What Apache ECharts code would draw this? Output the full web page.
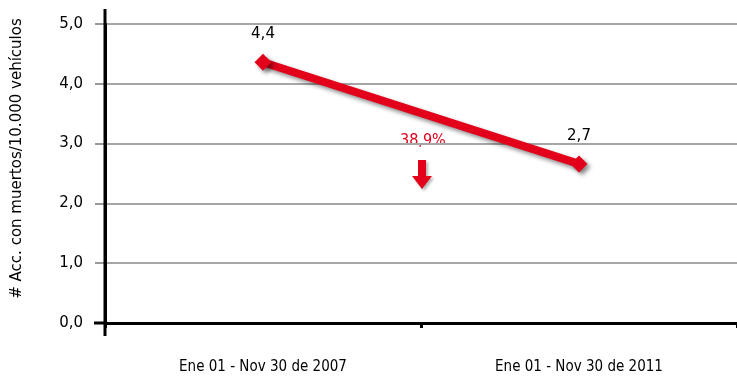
<!DOCTYPE html>
<html>
<head>
<meta charset="utf-8">
<script src="https://cdn.jsdelivr.net/npm/echarts@6/dist/echarts.min.js"></script>
<style>
  html, body { margin: 0; padding: 0; background: #fff; }
  #chart { width: 737px; height: 379px; }
</style>
</head>
<body>
<div id="chart"></div>
<script>
// periodos comparados
const periods = ['Ene 01 - Nov 30 de 2007', 'Ene 01 - Nov 30 de 2011'];
// accidentes con muertos por 10.000 vehículos
const rates = [4.36, 2.66];
const yTicks = [0, 1, 2, 3, 4, 5];
const changeLabel = '38,9%';

const red = '#e2001a';
const chart = echarts.init(document.getElementById('chart'));

const option = {
  animation: false,
  grid: { left: 105, right: 0, top: 24, bottom: 56 },
  xAxis: {
    type: 'category',
    data: periods,
    axisLine: { lineStyle: { color: '#000', width: 3 } },
    axisTick: { show: true, length: 5, lineStyle: { color: '#000', width: 3 } },
    axisLabel: {
      margin: 37,
      color: '#000',
      fontSize: 15,
      fontFamily: 'Liberation Sans Narrow, DejaVu Sans Condensed, sans-serif'
    }
  },
  yAxis: {
    type: 'value',
    min: yTicks[0],
    max: yTicks[yTicks.length - 1],
    interval: 1,
    name: '# Acc. con muertos/10.000 vehículos',
    nameLocation: 'middle',
    nameGap: 80,
    nameTextStyle: { color: '#000', fontSize: 15, fontFamily: 'DejaVu Sans', padding: [0, 0, 0, 30] },
    axisLine: { show: true, lineStyle: { color: '#000', width: 3 } },
    axisTick: { show: true, length: 10, lineStyle: { color: '#999', width: 2 } },
    axisLabel: {
      margin: 22,
      color: '#000',
      fontSize: 15,
      fontFamily: 'DejaVu Sans',
      formatter: v => v.toFixed(1).replace('.', ',')
    },
    splitLine: { lineStyle: { color: '#a6a6a6', width: 2 } }
  },
  series: [{
    type: 'line',
    data: rates,
    symbol: 'diamond',
    symbolSize: 17,
    lineStyle: {
      color: red, width: 8,
      shadowColor: 'rgba(0,0,0,0.45)', shadowBlur: 4, shadowOffsetX: 3, shadowOffsetY: 3
    },
    itemStyle: {
      color: red,
      shadowColor: 'rgba(0,0,0,0.45)', shadowBlur: 4, shadowOffsetX: 3, shadowOffsetY: 3
    },
    label: {
      show: true,
      position: 'top',
      distance: 12,
      color: '#000',
      fontSize: 15,
      fontFamily: 'DejaVu Sans',
      formatter: p => p.value.toFixed(1).replace('.', ',')
    }
  }],
  graphic: [
    // prolongaciones de los ejes
    { type: 'line', shape: { x1: 105, y1: 9, x2: 105, y2: 336 }, style: { stroke: '#000', lineWidth: 3 }, z: 10 },
    { type: 'line', shape: { x1: 94, y1: 323, x2: 106, y2: 323 }, style: { stroke: '#000', lineWidth: 3 }, z: 10 },
    // variación
    {
      type: 'text', left: 400, top: 133,
      style: { text: changeLabel, fill: red, fontSize: 16, fontFamily: 'DejaVu Sans Condensed, sans-serif' }
    },
    {
      type: 'polygon',
      shape: { points: [[418, 160], [426, 160], [426, 176], [432, 176], [422, 189], [412, 176], [418, 176]] },
      style: { fill: red, shadowColor: 'rgba(0,0,0,0.3)', shadowBlur: 3, shadowOffsetX: 2, shadowOffsetY: 2 }
    }
  ]
};

chart.setOption(option);
</script>
</body>
</html>
